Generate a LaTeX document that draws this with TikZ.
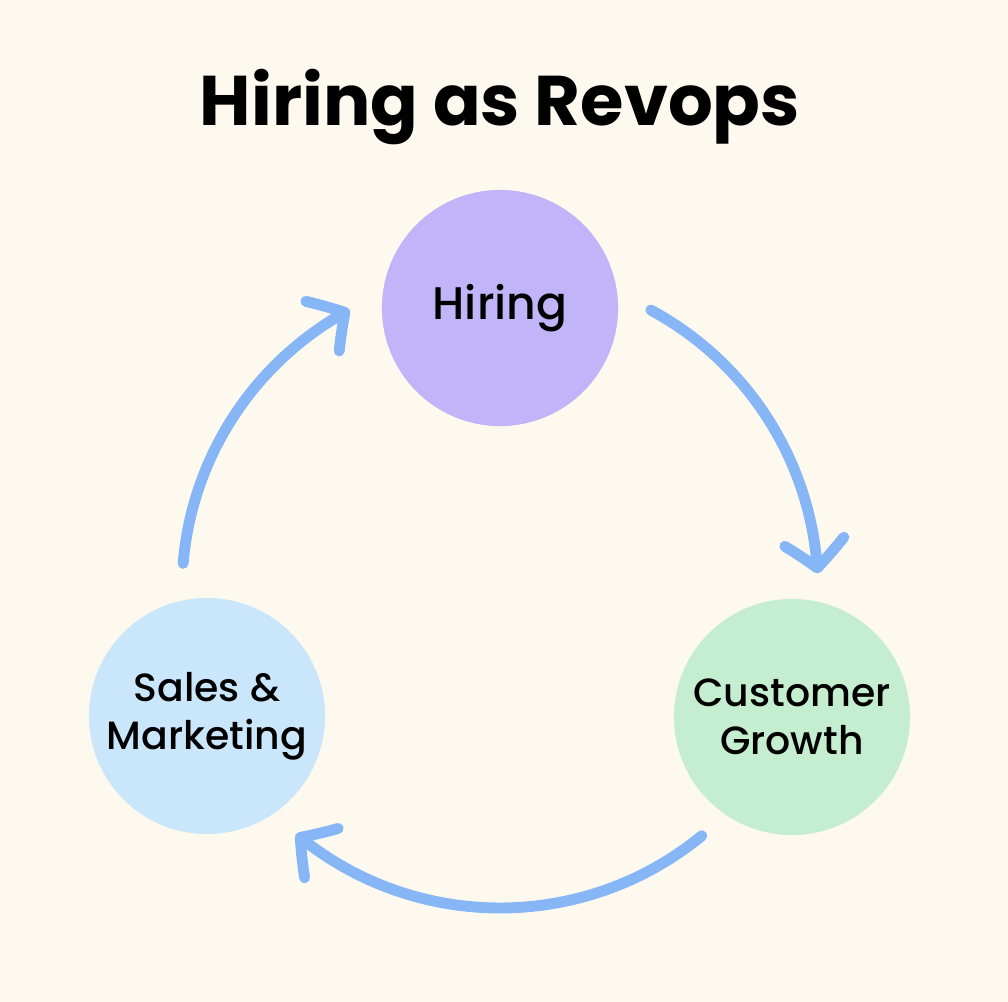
\documentclass[tikz,border=0pt]{standalone}
\usepackage{fontspec}
\setmainfont{Poppins}
\newfontfamily\titlefont{Poppins Bold}
\newfontfamily\labelfont{Poppins Medium}
\usetikzlibrary{arrows.meta,bending}
\definecolor{bg}{HTML}{FEF9EE}
\definecolor{arrowblue}{HTML}{87B6F6}
\definecolor{hirefill}{HTML}{C1B4F9}
\definecolor{salesfill}{HTML}{C9E6FA}
\definecolor{custfill}{HTML}{C4EECF}
\begin{document}
\begin{tikzpicture}[x=0.01cm,y=-0.01cm,
  stage/.style={circle,minimum size=2.36cm,inner sep=0pt,align=center,
    font=\labelfont\fontsize{11.2}{13.7}\selectfont,text=black},
  cyclearrow/.style={draw=arrowblue,line width=3.1pt,line cap=round,
    -{Straight Barb[length=7.5pt,width=17pt,round,bend]}}]
\fill[bg] (0,0) rectangle (1008,1002);
\useasboundingbox (0,0) rectangle (1008,1002);
\node[anchor=base,font=\titlefont\fontsize{20}{24}\selectfont] (title) at (500,125) {Hiring as Revops};
\node[stage,fill=hirefill,font=\labelfont\fontsize{13}{13.7}\selectfont] (hiring) at (500,308) {Hiring};
\node[stage,fill=salesfill] (sales) at (207,716) {Sales \&\\Marketing};
\node[stage,fill=custfill] (cust) at (792,717) {Customer\\Growth};
\coordinate (O) at (500,590);
\path (O) ++(-61.7:318) coordinate (a1s);
\path (O) ++(50.6:318) coordinate (a2s);
\path (O) ++(184.8:318) coordinate (a3s);
\draw[cyclearrow] (a1s) arc[start angle=-61.7,end angle=-3,radius=318];
\draw[cyclearrow] (a2s) arc[start angle=50.6,end angle=129.9,radius=318];
\draw[cyclearrow] (a3s) arc[start angle=184.8,end angle=241.8,radius=318];
\end{tikzpicture}
\end{document}
